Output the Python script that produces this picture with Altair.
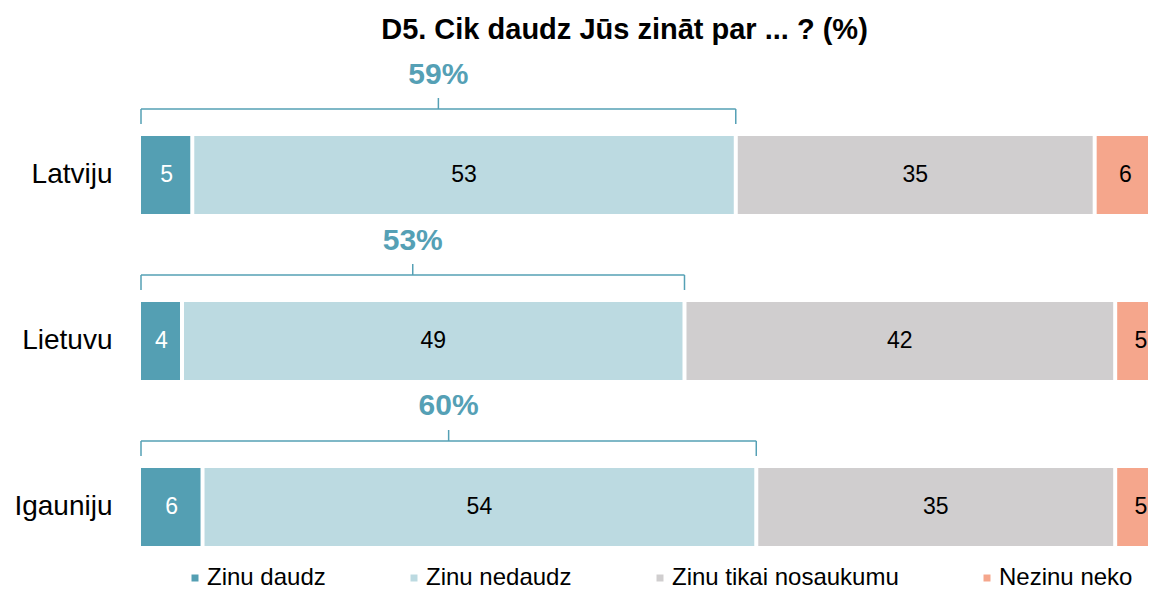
import altair as alt
import pandas as pd

countries = ["Latviju", "Lietuvu", "Igauniju"]
categories = ["Zinu daudz", "Zinu nedaudz", "Zinu tikai nosaukumu", "Nezinu neko"]
zinu_daudz = [5, 4, 6]
zinu_nedaudz = [53, 49, 54]
zinu_tikai_nosaukumu = [35, 42, 35]
nezinu_neko = [6, 5, 5]
kopa_zina = [59, 53, 60]
colors = ["#549fb3", "#bcdae1", "#d0cecf", "#f5a68c"]

TEAL = "#55a0b5"
FONT = "Liberation Sans"

series = [zinu_daudz, zinu_nedaudz, zinu_tikai_nosaukumu, nezinu_neko]
rows = []
for i, c in enumerate(countries):
    start = 0
    for j, cat in enumerate(categories):
        v = series[j][i]
        rows.append({"country": c, "cat": cat, "order": j, "value": v,
                     "start": start, "end": start + v, "mid": start + v / 2})
        start += v
df = pd.DataFrame(rows)

br = pd.DataFrame({
    "country": countries,
    "x0": [0] * len(countries),
    "x1": [a + b for a, b in zip(zinu_daudz, zinu_nedaudz)],
    "label": [f"{v}%" for v in kopa_zina],
})
br["xm"] = br["x1"] / 2

xscale = alt.Scale(domain=[0, 98.2], nice=False, zero=True)
yenc = alt.Y("country:N", sort=countries,
             scale=alt.Scale(paddingInner=0.5301, paddingOuter=0),
             axis=alt.Axis(title=None, ticks=False, domain=False, labelFontSize=28,
                           labelColor="black", labelPadding=29, labelFont=FONT,
                           labelLimit=300, grid=False))

bars = alt.Chart(df).mark_bar(clip=True).encode(
    x=alt.X("start:Q", scale=xscale, axis=None),
    x2="end:Q",
    y=yenc,
    color=alt.Color("cat:N", scale=alt.Scale(domain=categories, range=colors),
                    legend=alt.Legend(orient="none", legendX=42, legendY=430,
                                      direction="horizontal", columns=4, title=None,
                                      symbolType="square", symbolSize=49,
                                      labelFontSize=24, labelFont=FONT,
                                      labelColor="black", columnPadding=76,
                                      labelOffset=0, padding=0, labelLimit=500,
                                      symbolStrokeWidth=0)),
)

seps = alt.Chart(df).mark_tick(orient="vertical", color="white", thickness=4,
                               size=84, clip=True, opacity=1).encode(
    x=alt.X("end:Q", scale=xscale, axis=None),
    y=yenc,
)

labels = alt.Chart(df).mark_text(fontSize=23, font=FONT).encode(
    x=alt.X("mid:Q", scale=xscale, axis=None),
    y=yenc,
    text="value:Q",
    color=alt.condition(alt.datum.cat == "Zinu daudz", alt.value("white"), alt.value("black")),
)

hline = alt.Chart(br).mark_rule(color=TEAL, strokeWidth=1.5, yOffset=-66).encode(
    x=alt.X("x0:Q", scale=xscale, axis=None),
    x2="x1:Q",
    y=yenc,
)

ends = alt.Chart(br).transform_fold(["x0", "x1"], as_=["k", "xe"]).mark_tick(
    orient="vertical", color=TEAL, thickness=1.5, size=15, yOffset=-58.5, opacity=1
).encode(
    x=alt.X("xe:Q", scale=xscale, axis=None),
    y=yenc,
)

midtick = alt.Chart(br).mark_tick(orient="vertical", color=TEAL, thickness=1.5,
                                  size=11, yOffset=-71.5, opacity=1).encode(
    x=alt.X("xm:Q", scale=xscale, axis=None),
    y=yenc,
)

pct = alt.Chart(br).mark_text(fontSize=30, fontWeight="bold", font=FONT, color=TEAL,
                              yOffset=-100.5).encode(
    x=alt.X("xm:Q", scale=xscale, axis=None),
    y=yenc,
    text="label:N",
)

chart = alt.layer(bars, seps, labels, hline, ends, midtick, pct).properties(
    width=1007,
    height=410,
    autosize="none",
    padding={"left": 133, "top": 128, "right": 0, "bottom": 40},
    title=alt.Title("D5. Cik daudz Jūs zināt par ... ? (%)", fontSize=29, font=FONT,
                    fontWeight="bold", color="black", anchor="middle", dx=-20,
                    offset=20, dy=28, baseline="alphabetic"),
).configure_view(stroke=None)

chart.save("out.html", embed_options={"renderer": "svg", "actions": False})
